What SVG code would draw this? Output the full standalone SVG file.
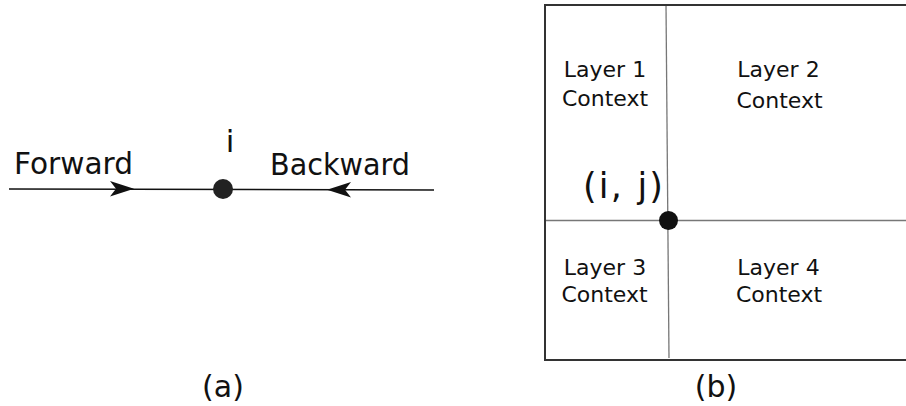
<svg xmlns="http://www.w3.org/2000/svg" width="906" height="406" viewBox="0 0 906 406">
<style>
text{font-family:"DejaVu Sans",sans-serif;fill:#111}
.lbl{font-size:22px;text-anchor:middle}
.big{font-size:30px}
.cap{font-size:30px;text-anchor:middle}
.grid{stroke:#777;stroke-width:1.3;fill:none}
</style>
<g id="connectors">
<line x1="9" y1="189" x2="434" y2="190" stroke="#111" stroke-width="1.5"/>
<path d="M110,181 L134,188.7 L110,196.5 L116,188.7 Z" fill="#111"/>
<path d="M351,182 L327,189.8 L351,197.5 L345,189.8 Z" fill="#111"/>
<line class="grid" x1="666" y1="4" x2="669" y2="358"/>
<line class="grid" x1="545" y1="220.5" x2="906" y2="220.5"/>
</g>
<g id="panel-a">
<text class="big" x="14" y="174" textLength="119" lengthAdjust="spacingAndGlyphs">Forward</text>
<text class="big" x="270" y="175" textLength="140" lengthAdjust="spacingAndGlyphs">Backward</text>
<text x="230" y="152" style="font-size:31px" text-anchor="middle">i</text>
<circle cx="223" cy="189" r="10" fill="#222"/>
<text class="cap" x="223" y="397">(a)</text>
</g>
<g id="panel-b">
<rect x="545" y="5" width="380" height="355" fill="none" stroke="#333" stroke-width="2"/>
<text class="lbl" x="605" y="77">Layer 1</text>
<text class="lbl" x="605" y="106">Context</text>
<text class="lbl" x="778.5" y="77">Layer 2</text>
<text class="lbl" x="779.5" y="108">Context</text>
<text class="lbl" x="605" y="275">Layer 3</text>
<text class="lbl" x="604.5" y="302">Context</text>
<text class="lbl" x="778.5" y="275">Layer 4</text>
<text class="lbl" x="779" y="302">Context</text>
<text x="583" y="198" style="font-size:35px" textLength="80" lengthAdjust="spacing">(i, j)</text>
<circle cx="668.5" cy="220.5" r="9.5" fill="#111"/>
<text class="cap" x="716" y="397">(b)</text>
</g>
</svg>
